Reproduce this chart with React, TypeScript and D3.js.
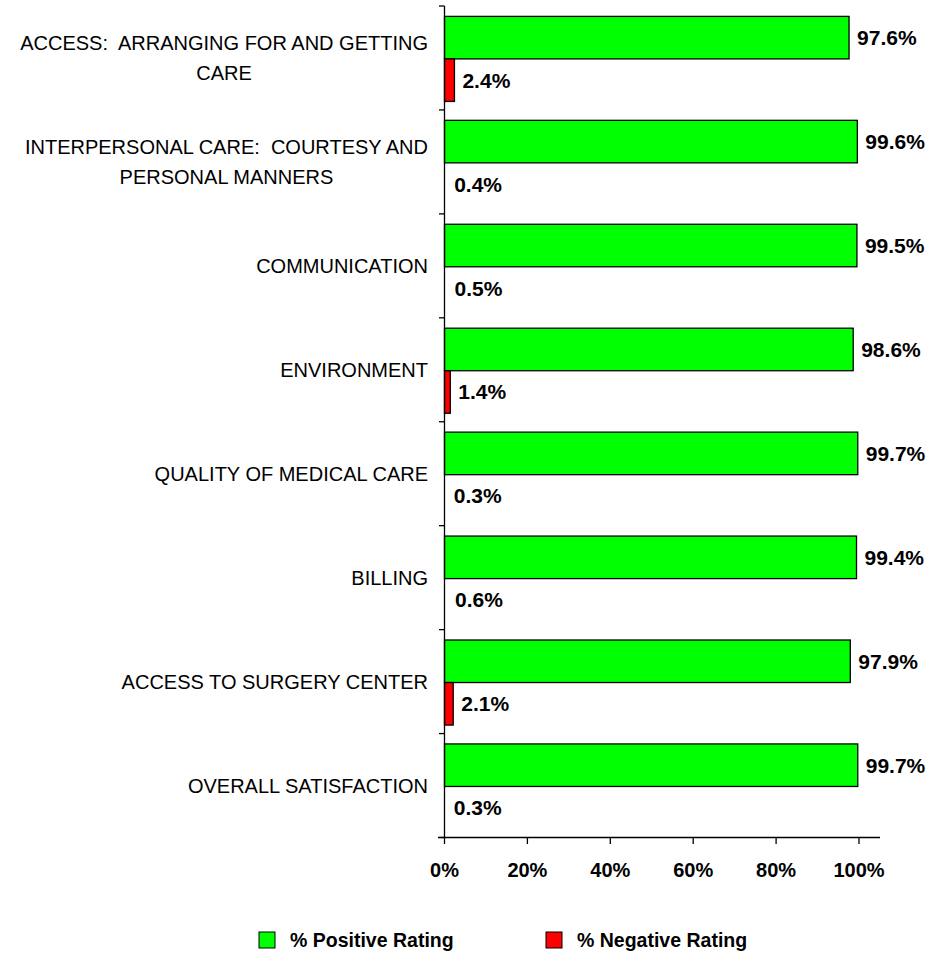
import React, { useEffect, useRef } from "react";
import * as d3 from "d3";

const categories = [
  "ACCESS:  ARRANGING FOR AND GETTING\nCARE",
  "INTERPERSONAL CARE:  COURTESY AND\nPERSONAL MANNERS",
  "COMMUNICATION",
  "ENVIRONMENT",
  "QUALITY OF MEDICAL CARE",
  "BILLING",
  "ACCESS TO SURGERY CENTER",
  "OVERALL SATISFACTION",
];
const positive = [97.6, 99.6, 99.5, 98.6, 99.7, 99.4, 97.9, 99.7];
const negative = [2.4, 0.4, 0.5, 1.4, 0.3, 0.6, 2.1, 0.3];
const xTicks = [0, 20, 40, 60, 80, 100];
const seriesNames = ["% Positive Rating", "% Negative Rating"];
const seriesColors = ["#00FF00", "#FF0000"];

const FONT = "'Liberation Sans', Arial, Helvetica, sans-serif";

export default function App() {
  const ref = useRef<SVGSVGElement | null>(null);

  useEffect(() => {
    document.body.style.margin = "0";
    const svg = d3.select(ref.current);
    svg.selectAll("*").remove();

    const x = d3.scaleLinear().domain([0, 100]).range([444.5, 859]);
    const y = d3.scaleBand<string>().domain(categories).range([6, 837.5]).paddingInner(0).paddingOuter(0);
    const inner = d3
      .scaleBand<string>()
      .domain(["pos", "neg"])
      .range([0, y.bandwidth()])
      .paddingInner(0)
      .paddingOuter(0.222)
      .align(0.55);

    const data = categories.map((c, i) => ({ c, pos: positive[i], neg: negative[i] }));

    // bars
    const g = svg.append("g");
    data.forEach((d) => {
      const y0 = y(d.c)!;
      [
        { k: "pos", v: d.pos, color: seriesColors[0] },
        { k: "neg", v: d.neg, color: seriesColors[1] },
      ].forEach((s) => {
        const by = y0 + inner(s.k)!;
        const bw = x(s.v) - x(0);
        if (bw >= 3) {
          g.append("rect")
            .attr("x", x(0))
            .attr("y", by)
            .attr("width", bw)
            .attr("height", inner.bandwidth())
            .attr("fill", s.color)
            .attr("stroke", "#000")
            .attr("stroke-width", 1.3);
        }
        g.append("text")
          .attr("x", x(s.v) + 8)
          .attr("y", by + inner.bandwidth() / 2 + 7.5)
          .attr("font-family", FONT)
          .attr("font-weight", "bold")
          .attr("font-size", 21)
          .attr("fill", "#000")
          .text(s.v.toFixed(1) + "%");
      });
    });

    // y axis line & ticks
    const ax = svg.append("g").attr("stroke", "#000").attr("stroke-width", 1.3);
    ax.append("line").attr("x1", 444.5).attr("x2", 444.5).attr("y1", 6).attr("y2", 837.5);
    const bounds = categories.map((c) => y(c)!).concat([837.5]);
    bounds.forEach((b) => {
      ax.append("line").attr("x1", 439).attr("x2", 444.5).attr("y1", b).attr("y2", b);
    });
    // x axis
    ax.append("line").attr("x1", 438).attr("x2", 880).attr("y1", 837.5).attr("y2", 837.5);
    xTicks.forEach((t) => {
      ax.append("line").attr("x1", x(t)).attr("x2", x(t)).attr("y1", 837.5).attr("y2", 844);
    });
    xTicks.forEach((t) => {
      svg
        .append("text")
        .attr("x", x(t))
        .attr("y", 877)
        .attr("text-anchor", "middle")
        .attr("font-family", FONT)
        .attr("font-weight", "bold")
        .attr("font-size", 20)
        .text(t + "%");
    });

    // category labels
    categories.forEach((c) => {
      const lines = c.split("\n");
      const cy = y(c)! + y.bandwidth() / 2;
      const lh = 29.5;
      const grp = svg.append("g");
      const texts = lines.map((ln, i) =>
        grp
          .append("text")
          .attr("y", cy + (i - (lines.length - 1) / 2) * lh + 7.2)
          .attr("font-family", FONT)
          .attr("font-size", 20)
          .attr("fill", "#000")
          .style("white-space", "pre")
          .text(ln)
      );
      const widths = texts.map((t) => (t.node() as SVGTextElement).getComputedTextLength());
      const W = Math.max(...widths);
      const center = 428 - W / 2;
      texts.forEach((t) => t.attr("x", center).attr("text-anchor", "middle"));
    });

    // legend
    const legendX = [259, 546];
    seriesNames.forEach((n, i) => {
      svg
        .append("rect")
        .attr("x", legendX[i])
        .attr("y", 932)
        .attr("width", 16)
        .attr("height", 16)
        .attr("fill", seriesColors[i])
        .attr("stroke", "#000")
        .attr("stroke-width", 1);
      svg
        .append("text")
        .attr("x", legendX[i] + 31)
        .attr("y", 947)
        .attr("font-family", FONT)
        .attr("font-weight", "bold")
        .attr("font-size", 19.5)
        .text(n);
    });
  }, []);

  return <svg ref={ref} width={946} height={956} style={{ display: "block", background: "#fff" }} />;
}
